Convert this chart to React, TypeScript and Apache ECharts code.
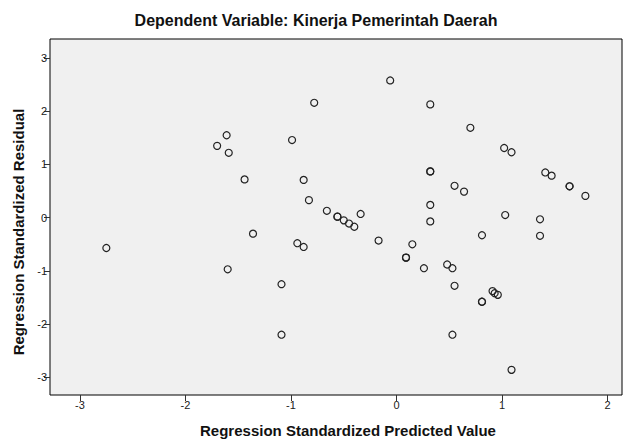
import React, { useEffect, useRef } from "react";
import * as echarts from "echarts";

const chartTitle = "Dependent Variable: Kinerja Pemerintah Daerah";
const xAxisTitle = "Regression Standardized Predicted Value";
const yAxisTitle = "Regression Standardized Residual";
const xTicks = [-3, -2, -1, 0, 1, 2];
const yTicks = [-3, -2, -1, 0, 1, 2, 3];

const predicted = [
  -1.61, -1.70, -1.59, -1.44, -1.36, -0.06, -0.78, 0.32, -0.99, 0.32, 0.32,
  -0.88, -0.83, -0.66, -0.56, -0.56, -0.50, -0.45, -0.40, -0.34, 0.32, 0.32,
  -0.17, -0.94, -0.88, 0.70, 1.02, 1.09, 1.41, 1.47, 1.64, 1.64, 1.79, 0.55,
  0.64, 1.03, 1.36, 0.81, 1.36, -2.75, -1.60, 0.15, 0.09, 0.09, 0.26, -1.09,
  -1.09, 0.48, 0.53, 0.55, 0.91, 0.93, 0.96, 0.81, 0.81, 0.53, 1.09,
];
const residual = [
  1.55, 1.35, 1.22, 0.72, -0.30, 2.58, 2.16, 2.13, 1.46, 0.87, 0.87,
  0.71, 0.33, 0.13, 0.02, 0.02, -0.05, -0.11, -0.17, 0.07, 0.24, -0.07,
  -0.43, -0.48, -0.55, 1.69, 1.31, 1.23, 0.85, 0.79, 0.59, 0.59, 0.41, 0.60,
  0.49, 0.05, -0.03, -0.33, -0.34, -0.57, -0.97, -0.50, -0.75, -0.75, -0.95, -1.25,
  -2.20, -0.88, -0.95, -1.28, -1.38, -1.42, -1.45, -1.58, -1.58, -2.20, -2.86,
];

const FONT = "'Liberation Sans', Arial, sans-serif";
const TITLE_FONT = `bold 16px ${FONT}`;
const AXIS_TITLE_FONT = `bold 15px ${FONT}`;

export default function App() {
  const ref = useRef<HTMLDivElement>(null);
  useEffect(() => {
    if (!ref.current) return;
    const chart = echarts.init(ref.current, undefined, { renderer: "svg" });
    const points = predicted.map((x, i) => [x, residual[i]]);
    chart.setOption({
      animation: false,
      backgroundColor: "#ffffff",
      graphic: [
        {
          type: "text",
          x: 316,
          y: 20,
          style: {
            text: chartTitle,
            font: TITLE_FONT,
            fill: "#111",
            textAlign: "center",
            textVerticalAlign: "middle",
          },
        },
        {
          type: "text",
          x: 348,
          y: 430,
          style: {
            text: xAxisTitle,
            font: AXIS_TITLE_FONT,
            fill: "#111",
            textAlign: "center",
            textVerticalAlign: "middle",
          },
        },
        {
          type: "text",
          x: 18,
          y: 232,
          rotation: Math.PI / 2,
          style: {
            text: yAxisTitle,
            font: AXIS_TITLE_FONT,
            fill: "#111",
            textAlign: "center",
            textVerticalAlign: "middle",
          },
        },
      ],
      grid: {
        left: 50,
        top: 39,
        right: 2,
        bottom: 46,
        show: true,
        backgroundColor: "#F0F0F0",
        borderColor: "#000",
        borderWidth: 1,
      },
      xAxis: {
        type: "value",
        min: -3.284,
        max: 2.137,
        axisLine: { show: false, onZero: false },
        axisTick: { show: true, length: 6, customValues: xTicks, lineStyle: { color: "#333" } },
        axisLabel: { customValues: xTicks, margin: 4, fontSize: 11, fontFamily: FONT, color: "#222" },
        splitLine: { show: false },
      },
      yAxis: {
        type: "value",
        min: -3.333,
        max: 3.359,
        axisLine: { show: false, onZero: false },
        axisTick: { show: true, length: 6, customValues: yTicks, lineStyle: { color: "#333" } },
        axisLabel: { customValues: yTicks, margin: 3, fontSize: 11, fontFamily: FONT, color: "#222" },
        splitLine: { show: false },
      },
      series: [
        {
          type: "scatter",
          data: points,
          symbol: "circle",
          symbolSize: 7,
          itemStyle: { color: "rgba(0,0,0,0)", borderColor: "#222", borderWidth: 1.2, opacity: 1 },
        },
      ],
    });
    return () => chart.dispose();
  }, []);
  return (
    <div
      ref={ref}
      style={{ position: "fixed", left: 0, top: 0, width: 624, height: 441 }}
    />
  );
}
